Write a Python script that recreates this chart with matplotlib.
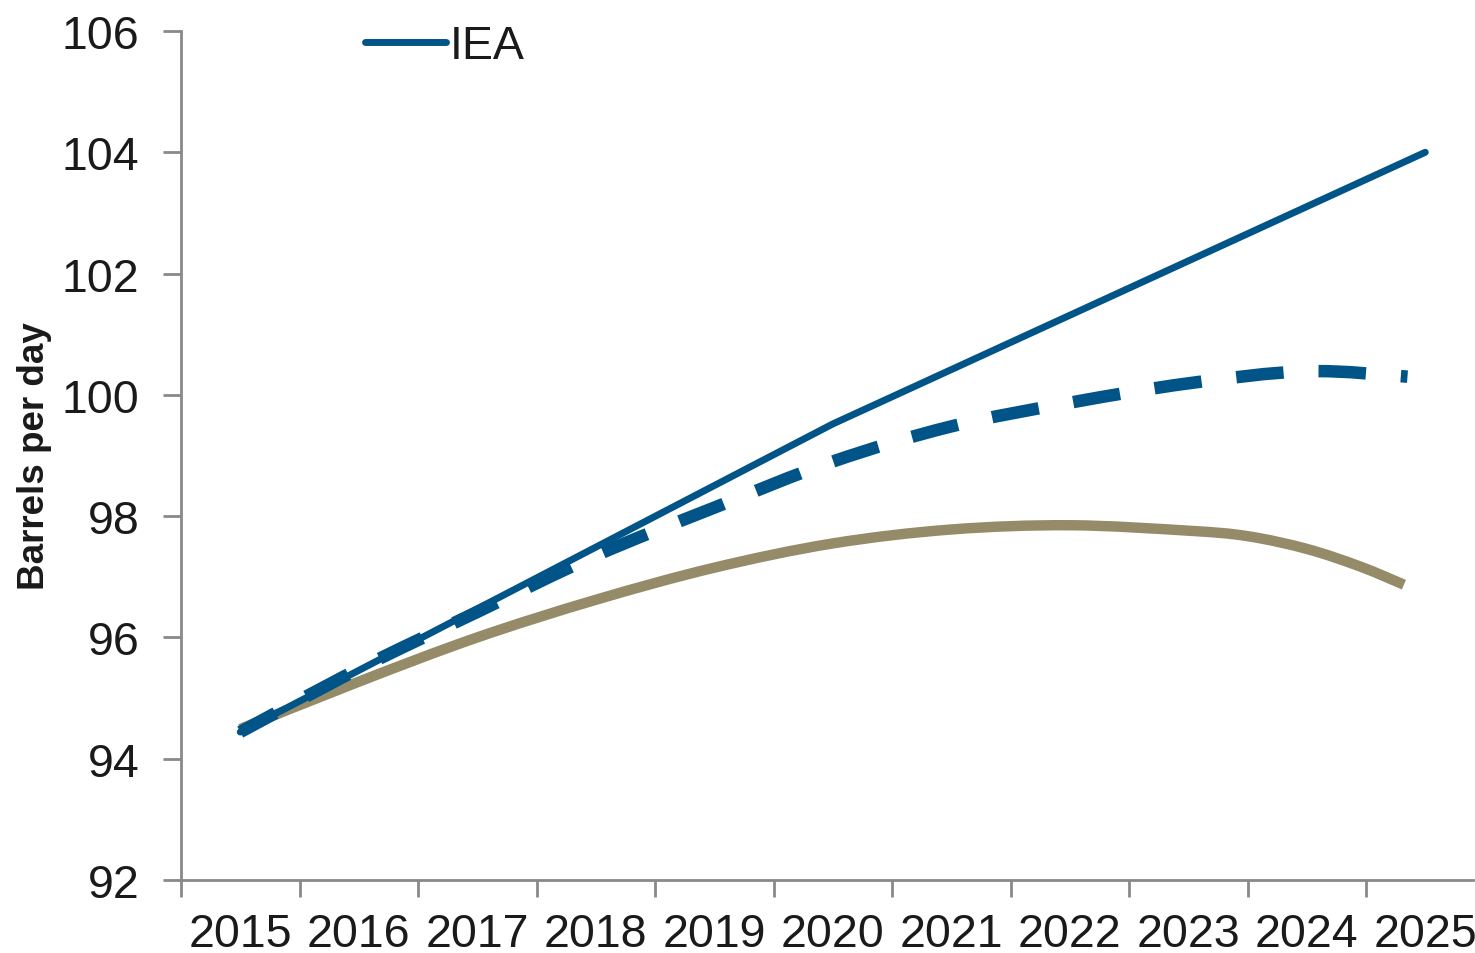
import matplotlib
matplotlib.use("Agg")
import matplotlib.pyplot as plt
from matplotlib.path import Path
from matplotlib.patches import PathPatch
from matplotlib.ticker import FixedLocator, NullFormatter, FixedFormatter

plt.rcParams['font.family'] = ['Liberation Sans', 'DejaVu Sans']

# ---- data ----
years = [2015, 2016, 2017, 2018, 2019, 2020, 2021, 2022, 2023, 2024, 2025]
year_labels = [str(y) for y in years]

iea_x = [2015, 2020, 2025]
iea = [94.44, 99.52, 104.0]

dashed_x = [2015, 2016, 2017, 2018, 2019, 2020, 2021, 2022, 2023, 2024, 2024.85]
dashed = [94.44, 95.48, 96.42, 97.35, 98.14, 98.9, 99.48, 99.87, 100.19, 100.39, 100.3]

gold_x = [2015, 2016, 2017, 2018, 2019, 2020, 2021, 2022, 2023, 2023.5, 2024, 2024.45, 2024.82]
gold = [94.49, 95.27, 96.0, 96.62, 97.15, 97.55, 97.78, 97.85, 97.76, 97.67, 97.46, 97.17, 96.87]

y_ticks = [92, 94, 96, 98, 100, 102, 104, 106]

BLUE = '#005487'
GOLD = '#968B68'
GREY = '#898989'
TXT = '#1a1a1a'


def smooth_path(xs, ys):
    """Excel-style smoothed line: cubic Bezier through the data points."""
    verts = [(xs[0], ys[0])]
    codes = [Path.MOVETO]
    n = len(xs)
    for i in range(n - 1):
        x0, y0 = (xs[i - 1], ys[i - 1]) if i > 0 else (xs[i], ys[i])
        x1, y1 = xs[i], ys[i]
        x2, y2 = xs[i + 1], ys[i + 1]
        x3, y3 = (xs[i + 2], ys[i + 2]) if i + 2 < n else (x2, y2)
        c1 = (x1 + (x2 - x0) / 6.0, y1 + (y2 - y0) / 6.0)
        c2 = (x2 - (x3 - x1) / 6.0, y2 - (y3 - y1) / 6.0)
        verts += [c1, c2, (x2, y2)]
        codes += [Path.CURVE4] * 3
    return Path(verts, codes)


fig = plt.figure(figsize=(14.75, 9.54), dpi=100)
ax_w = (1473 - 181) / 1475
ax = fig.add_axes([181/1475, 1-881/954, ax_w, (881-32)/954])

gold_patch = PathPatch(smooth_path(gold_x, gold), facecolor='none',
                       edgecolor=GOLD, lw=7.5, capstyle='butt', zorder=2)
ax.add_patch(gold_patch)
dash_patch = PathPatch(smooth_path(dashed_x, dashed), facecolor='none',
                       edgecolor=BLUE, lw=9, capstyle='butt', zorder=3,
                       linestyle=(0.6, (3.8, 2.8)))
ax.add_patch(dash_patch)
line_iea, = ax.plot(iea_x, iea, color=BLUE, lw=5, solid_capstyle='round',
                    solid_joinstyle='round', zorder=4, label='IEA')

ax.set_ylim(92, 106)
ax.set_yticks(y_ticks)
ax.set_xlim(2014.5, 2014.5 + (1473-181)/118.5)

# category boundaries as major ticks, labels at centers
ax.xaxis.set_major_locator(FixedLocator([y - 0.5 for y in years]))
ax.xaxis.set_major_formatter(NullFormatter())
ax.xaxis.set_minor_locator(FixedLocator(years))
ax.xaxis.set_minor_formatter(FixedFormatter(year_labels))
ax.tick_params(axis='x', which='minor', length=0, labelsize=33.5, pad=23,
               labelcolor=TXT)
ax.tick_params(axis='x', which='major', length=12, width=2, color=GREY,
               direction='out')
ax.tick_params(axis='y', length=13, width=2, color=GREY, direction='out',
               labelsize=33.5, pad=17, labelcolor=TXT)

for s in ['top', 'right']:
    ax.spines[s].set_visible(False)
for s in ['left', 'bottom']:
    ax.spines[s].set_color(GREY)
    ax.spines[s].set_linewidth(2)

ax.set_ylabel('Barrels per day', fontsize=26.5, fontweight='bold', color=TXT)
ax.yaxis.set_label_coords((52 - 181) / 1292, (881 - 456) / 849)

leg = fig.legend(handles=[line_iea], loc='center left',
                 bbox_to_anchor=(365/1475, 1-47/954), frameon=False,
                 fontsize=33.5, handlelength=1.75, handletextpad=0.08,
                 borderpad=0, borderaxespad=0)
for t in leg.get_texts():
    t.set_color(TXT)

fig.savefig('out.png', dpi=100)
